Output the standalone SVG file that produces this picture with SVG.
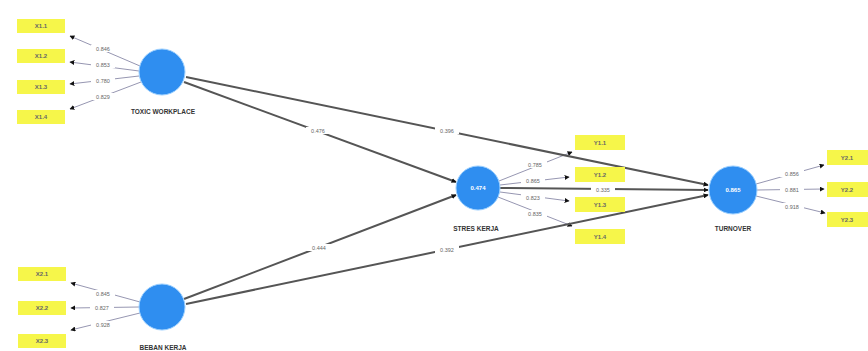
<svg xmlns="http://www.w3.org/2000/svg" width="868" height="351" viewBox="0 0 868 351">
<style>
.bg{fill:#ffffff}
.ind rect{fill:#f6f64a}
.ind text{font-family:"Liberation Sans",Arial,sans-serif;font-size:6px;fill:#666;text-anchor:middle;font-weight:bold}
.lat circle{fill:#2f8ef0;stroke:#9cd0ff;stroke-width:1}
.lat text.r2{font-family:"Liberation Sans",Arial,sans-serif;font-size:6px;fill:#fff;text-anchor:middle;font-weight:bold}
.lat text.nm{font-family:"Liberation Sans",Arial,sans-serif;font-size:6.5px;fill:#333;text-anchor:middle;font-weight:bold}
.load{stroke:#8a8aa8;stroke-width:0.9;fill:none}
.path{stroke:#555;stroke-width:2;fill:none}
.lbl{font-family:"Liberation Sans",Arial,sans-serif;font-size:5.5px;fill:#666;text-anchor:middle}
.lblbg{fill:#fff}
</style>
<defs>
<marker id="head" viewBox="0 0 8 8" refX="7" refY="4" markerWidth="5" markerHeight="5" markerUnits="userSpaceOnUse" orient="auto"><path d="M0,0 L8,4 L0,8 z" fill="#111"/></marker>
</defs>
<rect class="bg" x="0" y="0" width="868" height="351"/>

<g id="connectors">
  <line class="load" x1="140" y1="66" x2="70" y2="36" marker-end="url(#head)"/>
  <line class="load" x1="139" y1="71" x2="70" y2="62" marker-end="url(#head)"/>
  <line class="load" x1="139" y1="76" x2="70" y2="84" marker-end="url(#head)"/>
  <line class="load" x1="141" y1="82" x2="70" y2="109" marker-end="url(#head)"/>
  <line class="load" x1="140" y1="302" x2="71" y2="283" marker-end="url(#head)"/>
  <line class="load" x1="139" y1="307" x2="71" y2="308" marker-end="url(#head)"/>
  <line class="load" x1="140" y1="313" x2="71" y2="330" marker-end="url(#head)"/>
  <line class="load" x1="499" y1="181" x2="572" y2="152" marker-end="url(#head)"/>
  <line class="load" x1="500" y1="185" x2="569" y2="177" marker-end="url(#head)"/>
  <line class="load" x1="500" y1="192" x2="569" y2="201" marker-end="url(#head)"/>
  <line class="load" x1="498" y1="197" x2="572" y2="226" marker-end="url(#head)"/>
  <line class="load" x1="756" y1="184" x2="824" y2="165" marker-end="url(#head)"/>
  <line class="load" x1="757" y1="190" x2="824" y2="189" marker-end="url(#head)"/>
  <line class="load" x1="756" y1="196" x2="825" y2="213" marker-end="url(#head)"/>
  <line class="path" x1="186" y1="77" x2="708" y2="185" marker-end="url(#head)"/>
  <line class="path" x1="184" y1="82" x2="456" y2="182" marker-end="url(#head)"/>
  <line class="path" x1="184" y1="299" x2="456" y2="195" marker-end="url(#head)"/>
  <line class="path" x1="186" y1="304" x2="708" y2="195" marker-end="url(#head)"/>
  <line class="path" x1="500" y1="188" x2="708" y2="190" marker-end="url(#head)"/>
  <rect class="lblbg" x="91" y="45" width="24" height="7"/><text class="lbl" x="103" y="50.5">0.846</text>
  <rect class="lblbg" x="91" y="61" width="24" height="7"/><text class="lbl" x="103" y="66.5">0.853</text>
  <rect class="lblbg" x="91" y="77" width="24" height="7"/><text class="lbl" x="103" y="82.5">0.780</text>
  <rect class="lblbg" x="91" y="93" width="24" height="7"/><text class="lbl" x="103" y="98.5">0.829</text>
  <rect class="lblbg" x="91" y="290" width="24" height="7"/><text class="lbl" x="103" y="295.5">0.845</text>
  <rect class="lblbg" x="90" y="304" width="24" height="7"/><text class="lbl" x="102" y="309.5">0.827</text>
  <rect class="lblbg" x="91" y="321" width="24" height="7"/><text class="lbl" x="103" y="326.5">0.928</text>
  <rect class="lblbg" x="523" y="161" width="24" height="7"/><text class="lbl" x="535" y="166.5">0.785</text>
  <rect class="lblbg" x="521" y="177" width="24" height="7"/><text class="lbl" x="533" y="182.5">0.865</text>
  <rect class="lblbg" x="521" y="194" width="24" height="7"/><text class="lbl" x="533" y="199.5">0.823</text>
  <rect class="lblbg" x="523" y="210" width="24" height="7"/><text class="lbl" x="535" y="215.5">0.835</text>
  <rect class="lblbg" x="780" y="170" width="24" height="7"/><text class="lbl" x="792" y="175.5">0.856</text>
  <rect class="lblbg" x="780" y="186" width="24" height="7"/><text class="lbl" x="792" y="191.5">0.881</text>
  <rect class="lblbg" x="780" y="203" width="24" height="7"/><text class="lbl" x="792" y="208.5">0.918</text>
  <rect class="lblbg" x="306" y="127" width="24" height="7"/><text class="lbl" x="318" y="132.5">0.476</text>
  <rect class="lblbg" x="435" y="127" width="24" height="7"/><text class="lbl" x="447" y="132.5">0.396</text>
  <rect class="lblbg" x="307" y="244" width="24" height="7"/><text class="lbl" x="319" y="249.5">0.444</text>
  <rect class="lblbg" x="435" y="246" width="24" height="7"/><text class="lbl" x="447" y="251.5">0.392</text>
  <rect class="lblbg" x="591" y="186" width="24" height="7"/><text class="lbl" x="603" y="191.5">0.335</text>
</g>

<g id="X1.1" class="ind"><rect x="17" y="19" width="48" height="14"/><text x="41" y="28">X1.1</text></g>
<g id="X1.2" class="ind"><rect x="17" y="49" width="48" height="14"/><text x="41" y="58">X1.2</text></g>
<g id="X1.3" class="ind"><rect x="17" y="80" width="48" height="14"/><text x="41" y="89">X1.3</text></g>
<g id="X1.4" class="ind"><rect x="17" y="110" width="48" height="14"/><text x="41" y="119">X1.4</text></g>
<g id="X2.1" class="ind"><rect x="18" y="267" width="48" height="14"/><text x="42" y="276">X2.1</text></g>
<g id="X2.2" class="ind"><rect x="18" y="301" width="48" height="14"/><text x="42" y="310">X2.2</text></g>
<g id="X2.3" class="ind"><rect x="18" y="334" width="48" height="14"/><text x="42" y="343">X2.3</text></g>
<g id="Y1.1" class="ind"><rect x="575" y="135" width="50" height="15"/><text x="600" y="145">Y1.1</text></g>
<g id="Y1.2" class="ind"><rect x="575" y="167" width="50" height="15"/><text x="600" y="177">Y1.2</text></g>
<g id="Y1.3" class="ind"><rect x="575" y="197" width="50" height="15"/><text x="600" y="207">Y1.3</text></g>
<g id="Y1.4" class="ind"><rect x="575" y="229" width="50" height="15"/><text x="600" y="239">Y1.4</text></g>
<g id="Y2.1" class="ind"><rect x="827" y="150" width="41" height="15"/><text x="847" y="160">Y2.1</text></g>
<g id="Y2.2" class="ind"><rect x="827" y="182" width="41" height="15"/><text x="847" y="192">Y2.2</text></g>
<g id="Y2.3" class="ind"><rect x="827" y="212" width="41" height="15"/><text x="847" y="222">Y2.3</text></g>

<g id="toxic-workplace" class="lat"><circle cx="162" cy="72" r="23"/><text class="nm" x="163" y="114">TOXIC WORKPLACE</text></g>
<g id="beban-kerja" class="lat"><circle cx="162" cy="307" r="23"/><text class="nm" x="163" y="350">BEBAN KERJA</text></g>
<g id="stres-kerja" class="lat"><circle cx="478" cy="188" r="22"/><text class="r2" x="478" y="190">0.474</text><text class="nm" x="476" y="231">STRES KERJA</text></g>
<g id="turnover" class="lat"><circle cx="733" cy="190" r="24"/><text class="r2" x="733" y="192">0.865</text><text class="nm" x="733" y="231">TURNOVER</text></g>
</svg>
